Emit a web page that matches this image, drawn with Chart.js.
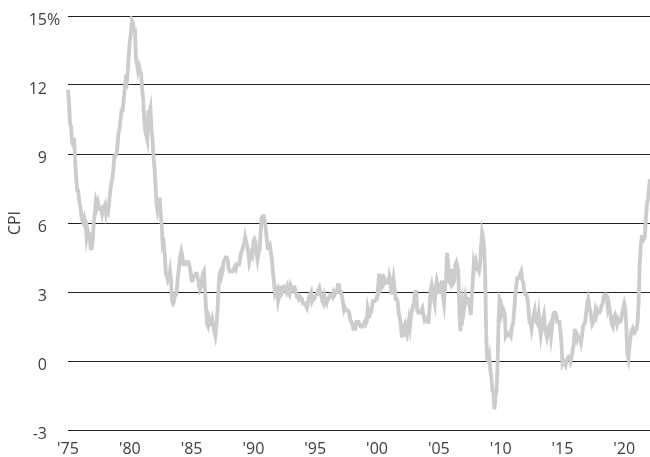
<!DOCTYPE html>
<html>
<head>
<meta charset="utf-8">
<script src="https://cdn.jsdelivr.net/npm/chart.js@4/dist/chart.umd.min.js"></script>
<style>
  html, body { margin: 0; padding: 0; background: #fff; }
  #wrap { width: 650px; height: 457px; position: relative; }
</style>
</head>
<body>
<div id="wrap"><canvas id="c" width="650" height="457"></canvas></div>
<script>
// US CPI, year-over-year %, monthly, Jan 1975 – Feb 2022
const startYear = 1975;
const cpi = [
  11.8, 11.2, 10.3, 10.2, 9.5, 9.4, 9.7, 8.6, 7.9, 7.4, 7.4, 6.9,   // 1975
  6.7, 6.3, 6.1, 6.0, 6.2, 6.0, 5.4, 5.7, 5.5, 5.5, 4.9, 4.9,       // 1976
  5.2, 6.0, 6.4, 6.9, 6.7, 6.9, 6.7, 6.6, 6.6, 6.4, 6.7, 6.7,       // 1977
  6.8, 6.4, 6.6, 6.5, 6.9, 7.4, 7.7, 7.9, 8.3, 8.9, 8.9, 9.0,       // 1978
  9.3, 9.9, 10.1, 10.5, 10.9, 10.9, 11.3, 11.8, 12.2, 12.1, 12.6, 13.3, // 1979
  13.9, 14.2, 14.8, 14.7, 14.4, 14.4, 13.1, 12.9, 12.6, 12.8, 12.6, 12.5, // 1980
  11.8, 11.4, 10.5, 10.0, 9.8, 9.6, 10.8, 10.8, 11.0, 10.1, 9.6, 8.9, // 1981
  8.4, 7.6, 6.8, 6.5, 6.7, 7.1, 6.4, 5.9, 5.0, 5.1, 4.6, 3.8,       // 1982
  3.7, 3.5, 3.6, 3.9, 3.5, 2.6, 2.5, 2.6, 2.9, 2.9, 3.3, 3.8,       // 1983
  4.2, 4.6, 4.8, 4.6, 4.2, 4.2, 4.2, 4.3, 4.3, 4.3, 4.1, 3.9,       // 1984
  3.5, 3.5, 3.7, 3.7, 3.8, 3.8, 3.6, 3.3, 3.1, 3.2, 3.5, 3.8,       // 1985
  3.9, 3.1, 2.3, 1.6, 1.5, 1.8, 1.6, 1.6, 1.8, 1.5, 1.3, 1.1,       // 1986
  1.5, 2.1, 3.0, 3.8, 3.9, 3.7, 3.9, 4.3, 4.4, 4.5, 4.5, 4.4,       // 1987
  4.0, 3.9, 3.9, 3.9, 3.9, 4.0, 4.1, 4.0, 4.2, 4.2, 4.2, 4.4,       // 1988
  4.7, 4.8, 5.0, 5.1, 5.4, 5.2, 5.0, 4.7, 4.3, 4.5, 4.7, 4.6,       // 1989
  5.2, 5.3, 5.2, 4.7, 4.4, 4.7, 4.8, 5.6, 6.2, 6.3, 6.3, 6.1,       // 1990
  5.7, 5.3, 4.9, 4.9, 5.0, 4.7, 4.4, 3.8, 3.4, 2.9, 3.0, 3.1,       // 1991
  2.6, 2.8, 3.2, 3.2, 3.0, 3.1, 3.2, 3.1, 3.0, 3.2, 3.0, 2.9,       // 1992
  3.3, 3.2, 3.1, 3.2, 3.2, 3.0, 2.8, 2.8, 2.7, 2.8, 2.7, 2.7,       // 1993
  2.5, 2.5, 2.5, 2.4, 2.3, 2.5, 2.8, 2.9, 3.0, 2.6, 2.7, 2.7,       // 1994
  2.8, 2.9, 2.9, 3.1, 3.2, 3.0, 2.8, 2.6, 2.5, 2.8, 2.6, 2.5,       // 1995
  2.7, 2.7, 2.8, 2.9, 2.9, 2.8, 3.0, 2.9, 3.0, 3.0, 3.3, 3.3,       // 1996
  3.0, 3.0, 2.8, 2.5, 2.2, 2.3, 2.2, 2.2, 2.2, 2.1, 1.8, 1.7,       // 1997
  1.6, 1.4, 1.4, 1.4, 1.7, 1.7, 1.7, 1.6, 1.5, 1.5, 1.5, 1.6,       // 1998
  1.7, 1.6, 1.7, 2.3, 2.1, 2.0, 2.1, 2.3, 2.6, 2.6, 2.6, 2.7,       // 1999
  2.7, 3.2, 3.8, 3.1, 3.2, 3.7, 3.7, 3.4, 3.5, 3.4, 3.4, 3.4,       // 2000
  3.7, 3.5, 2.9, 3.3, 3.6, 3.2, 2.7, 2.7, 2.6, 2.1, 1.9, 1.6,       // 2001
  1.1, 1.1, 1.5, 1.6, 1.2, 1.1, 1.5, 1.8, 1.5, 2.0, 2.2, 2.4,       // 2002
  2.6, 3.0, 3.0, 2.2, 2.1, 2.1, 2.1, 2.2, 2.3, 2.0, 1.8, 1.9,       // 2003
  1.9, 1.7, 1.7, 2.3, 3.1, 3.3, 3.0, 2.7, 2.5, 3.2, 3.5, 3.3,       // 2004
  3.0, 3.0, 3.1, 3.5, 2.8, 2.5, 3.2, 3.6, 4.7, 4.3, 3.5, 3.4,       // 2005
  4.0, 3.6, 3.4, 3.5, 4.2, 4.3, 4.1, 3.8, 2.1, 1.3, 2.0, 2.5,       // 2006
  2.1, 2.4, 2.8, 2.6, 2.7, 2.7, 2.4, 2.0, 2.8, 3.5, 4.3, 4.1,       // 2007
  4.3, 4.0, 4.0, 3.9, 4.2, 5.0, 5.6, 5.4, 4.9, 3.7, 1.1, 0.1,       // 2008
  0.0, 0.2, -0.4, -0.7, -1.3, -1.4, -2.1, -1.5, -1.3, -0.2, 1.8, 2.7, // 2009
  2.6, 2.1, 2.3, 2.2, 2.0, 1.1, 1.2, 1.1, 1.1, 1.2, 1.1, 1.5,       // 2010
  1.6, 2.1, 2.7, 3.2, 3.6, 3.6, 3.6, 3.8, 3.9, 3.5, 3.4, 3.0,       // 2011
  2.9, 2.9, 2.7, 2.3, 1.7, 1.7, 1.4, 1.7, 2.0, 2.2, 1.8, 1.7,       // 2012
  1.6, 2.0, 1.5, 1.1, 1.4, 1.8, 2.0, 1.5, 1.2, 1.0, 1.2, 1.5,       // 2013
  1.6, 1.1, 1.5, 2.0, 2.1, 2.1, 2.0, 1.7, 1.7, 1.7, 1.3, 0.8,       // 2014
  -0.1, 0.0, -0.1, -0.2, 0.0, 0.1, 0.2, 0.2, 0.0, 0.2, 0.5, 0.7,    // 2015
  1.4, 1.0, 0.9, 1.1, 1.0, 1.0, 0.8, 1.1, 1.5, 1.6, 1.7, 2.1,       // 2016
  2.5, 2.7, 2.4, 2.2, 1.9, 1.6, 1.7, 1.9, 2.2, 2.0, 2.2, 2.1,       // 2017
  2.1, 2.2, 2.4, 2.5, 2.8, 2.9, 2.9, 2.7, 2.3, 2.5, 2.2, 1.9,       // 2018
  1.6, 1.5, 1.9, 2.0, 1.8, 1.6, 1.8, 1.7, 1.7, 1.8, 2.1, 2.3,       // 2019
  2.5, 2.3, 1.5, 0.3, 0.1, 0.6, 1.0, 1.3, 1.4, 1.2, 1.2, 1.4,       // 2020
  1.4, 1.7, 2.6, 4.2, 5.0, 5.4, 5.4, 5.3, 5.4, 6.2, 6.8, 7.0,       // 2021
  7.5, 7.9                                                          // 2022
];
const tickYears = [1975, 1980, 1985, 1990, 1995, 2000, 2005, 2010, 2015, 2020];
const yTicks = [-3, 0, 3, 6, 9, 12, 15];
const yTitle = 'CPI';

// month labels built from the start year and the series length
const labels = cpi.map((_, i) => {
  const y = startYear + Math.floor(i / 12);
  const m = (i % 12) + 1;
  return y + '-' + String(m).padStart(2, '0');
});

const FONT = '"Open Sans", "Noto Sans", sans-serif';
const TXT = '#404040';
const Y_LABEL_SHIFT = 4;

const percentPlugin = {
  id: 'percentSign',
  afterDraw(chart) {
    const ys = chart.scales.y;
    const ctx = chart.ctx;
    const top = yTicks[yTicks.length - 1];
    ctx.save();
    ctx.font = '16px ' + FONT;
    ctx.fillStyle = TXT;
    ctx.textAlign = 'left';
    ctx.textBaseline = 'middle';
    ctx.fillText('%', ys.right - 21, ys.getPixelForValue(top) + Y_LABEL_SHIFT);
    ctx.restore();
  }
};

new Chart(document.getElementById('c'), {
  type: 'line',
  data: {
    labels: labels,
    datasets: [{
      data: cpi,
      borderColor: '#cccccc',
      borderWidth: 3.8,
      pointRadius: 0,
      tension: 0,
      fill: false
    }]
  },
  options: {
    responsive: false,
    animation: false,
    layout: { padding: { top: 16, right: 0, left: 0, bottom: 0 } },
    plugins: { legend: { display: false }, tooltip: { enabled: false } },
    scales: {
      x: {
        type: 'category',
        offset: false,
        grid: { display: false, drawTicks: false },
        border: { display: false },
        afterFit(s) { s.height = 27; s.paddingLeft = 0; s.paddingRight = 0; },
        ticks: {
          autoSkip: false,
          maxRotation: 0,
          minRotation: 0,
          padding: 10,
          color: TXT,
          font: { family: FONT, size: 16 },
          callback(val, idx) {
            const lab = labels[idx];
            const y = parseInt(lab.slice(0, 4), 10);
            const m = lab.slice(5);
            if (m === '01' && tickYears.includes(y)) return "'" + String(y).slice(2);
            return null;
          }
        }
      },
      y: {
        min: yTicks[0],
        max: yTicks[yTicks.length - 1],
        afterFit(s) { s.width = 68; s.paddingTop = 0; s.paddingBottom = 0; },
        afterBuildTicks(s) { s.ticks = yTicks.map(v => ({ value: v })); },
        grid: { color: '#222222', lineWidth: 1, drawTicks: false },
        border: { display: false },
        title: {
          display: true,
          text: yTitle,
          color: TXT,
          font: { family: FONT, size: 16 },
          padding: { top: 6, bottom: 0 }
        },
        ticks: {
          padding: 21,
          labelOffset: Y_LABEL_SHIFT,
          color: TXT,
          font: { family: FONT, size: 16 },
          callback(v) { return String(v); }
        }
      }
    }
  },
  plugins: [percentPlugin]
});
</script>
</body>
</html>
